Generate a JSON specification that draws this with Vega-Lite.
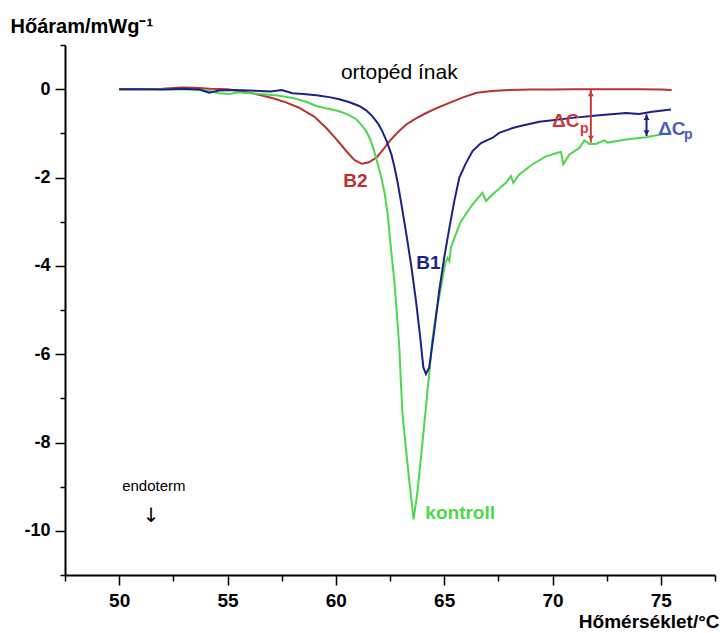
{
  "$schema": "https://vega.github.io/schema/vega-lite/v6.json",
  "width": 650,
  "height": 530,
  "autosize": {"type": "none"},
  "padding": {"left": 65, "top": 45, "right": 7, "bottom": 58},
  "background": "white",
  "config": {
    "view": {"stroke": null},
    "font": "Liberation Sans",
    "axis": {
      "grid": false,
      "domainColor": "black",
      "domainWidth": 2,
      "tickColor": "black",
      "tickWidth": 1.5,
      "labelColor": "black",
      "labelFont": "Liberation Sans",
      "labelFontSize": 18,
      "labelFontWeight": "bold",
      "titleFont": "Liberation Sans",
      "titleColor": "black",
      "titleFontSize": 19,
      "titleFontWeight": "bold"
    }
  },
  "datasets": {
    "curves": [
      {"s": "B2", "t": 50.0, "v": 0.0},
      {"s": "B2", "t": 51.0, "v": 0.0},
      {"s": "B2", "t": 52.0, "v": 0.01},
      {"s": "B2", "t": 52.9, "v": 0.04},
      {"s": "B2", "t": 53.5, "v": 0.03},
      {"s": "B2", "t": 54.2, "v": 0.01},
      {"s": "B2", "t": 55.0, "v": 0.0},
      {"s": "B2", "t": 55.7, "v": -0.05},
      {"s": "B2", "t": 56.5, "v": -0.13},
      {"s": "B2", "t": 57.06, "v": -0.2},
      {"s": "B2", "t": 57.7, "v": -0.3},
      {"s": "B2", "t": 58.3, "v": -0.42},
      {"s": "B2", "t": 59.0, "v": -0.62},
      {"s": "B2", "t": 59.56, "v": -0.88},
      {"s": "B2", "t": 60.0, "v": -1.12},
      {"s": "B2", "t": 60.48, "v": -1.4},
      {"s": "B2", "t": 60.85, "v": -1.6},
      {"s": "B2", "t": 61.2, "v": -1.69},
      {"s": "B2", "t": 61.5, "v": -1.66},
      {"s": "B2", "t": 61.87, "v": -1.55},
      {"s": "B2", "t": 62.2, "v": -1.36},
      {"s": "B2", "t": 62.47, "v": -1.18},
      {"s": "B2", "t": 62.85, "v": -0.98},
      {"s": "B2", "t": 63.25, "v": -0.8},
      {"s": "B2", "t": 63.7, "v": -0.66},
      {"s": "B2", "t": 64.17, "v": -0.54},
      {"s": "B2", "t": 64.7, "v": -0.42},
      {"s": "B2", "t": 65.24, "v": -0.31},
      {"s": "B2", "t": 65.9, "v": -0.18},
      {"s": "B2", "t": 66.5, "v": -0.08},
      {"s": "B2", "t": 67.2, "v": -0.04},
      {"s": "B2", "t": 68.0, "v": -0.02},
      {"s": "B2", "t": 69.0, "v": -0.01},
      {"s": "B2", "t": 70.0, "v": -0.01},
      {"s": "B2", "t": 71.0, "v": 0.0},
      {"s": "B2", "t": 72.0, "v": 0.0},
      {"s": "B2", "t": 73.0, "v": 0.0},
      {"s": "B2", "t": 74.0, "v": 0.0},
      {"s": "B2", "t": 75.0, "v": -0.01},
      {"s": "B2", "t": 75.5, "v": -0.02},

      {"s": "kontroll", "t": 50.0, "v": 0.0},
      {"s": "kontroll", "t": 51.0, "v": 0.0},
      {"s": "kontroll", "t": 52.0, "v": 0.0},
      {"s": "kontroll", "t": 53.0, "v": -0.01},
      {"s": "kontroll", "t": 54.0, "v": -0.02},
      {"s": "kontroll", "t": 54.6, "v": -0.09},
      {"s": "kontroll", "t": 55.1, "v": -0.11},
      {"s": "kontroll", "t": 55.5, "v": -0.07},
      {"s": "kontroll", "t": 56.2, "v": -0.1},
      {"s": "kontroll", "t": 56.8, "v": -0.12},
      {"s": "kontroll", "t": 57.4, "v": -0.15},
      {"s": "kontroll", "t": 58.0, "v": -0.2},
      {"s": "kontroll", "t": 58.6, "v": -0.28},
      {"s": "kontroll", "t": 59.1, "v": -0.38},
      {"s": "kontroll", "t": 59.6, "v": -0.44},
      {"s": "kontroll", "t": 60.16, "v": -0.5},
      {"s": "kontroll", "t": 60.6, "v": -0.58},
      {"s": "kontroll", "t": 60.94, "v": -0.68},
      {"s": "kontroll", "t": 61.2, "v": -0.82},
      {"s": "kontroll", "t": 61.4, "v": -0.95},
      {"s": "kontroll", "t": 61.6, "v": -1.15},
      {"s": "kontroll", "t": 61.77, "v": -1.4},
      {"s": "kontroll", "t": 61.95, "v": -1.72},
      {"s": "kontroll", "t": 62.1, "v": -2.0},
      {"s": "kontroll", "t": 62.25, "v": -2.35},
      {"s": "kontroll", "t": 62.39, "v": -2.83},
      {"s": "kontroll", "t": 62.54, "v": -3.59},
      {"s": "kontroll", "t": 62.7, "v": -4.34},
      {"s": "kontroll", "t": 62.82, "v": -5.1},
      {"s": "kontroll", "t": 62.93, "v": -5.85},
      {"s": "kontroll", "t": 63.0, "v": -6.61},
      {"s": "kontroll", "t": 63.08, "v": -7.36},
      {"s": "kontroll", "t": 63.23, "v": -8.11},
      {"s": "kontroll", "t": 63.39, "v": -8.87},
      {"s": "kontroll", "t": 63.59, "v": -9.74},
      {"s": "kontroll", "t": 63.77, "v": -9.1},
      {"s": "kontroll", "t": 63.93, "v": -8.34},
      {"s": "kontroll", "t": 64.08, "v": -7.59},
      {"s": "kontroll", "t": 64.23, "v": -6.83},
      {"s": "kontroll", "t": 64.31, "v": -6.45},
      {"s": "kontroll", "t": 64.45, "v": -5.7},
      {"s": "kontroll", "t": 64.62, "v": -5.1},
      {"s": "kontroll", "t": 64.85, "v": -4.5},
      {"s": "kontroll", "t": 65.05, "v": -3.93},
      {"s": "kontroll", "t": 65.16, "v": -3.82},
      {"s": "kontroll", "t": 65.24, "v": -3.89},
      {"s": "kontroll", "t": 65.31, "v": -3.59},
      {"s": "kontroll", "t": 65.62, "v": -3.18},
      {"s": "kontroll", "t": 65.78, "v": -2.99},
      {"s": "kontroll", "t": 66.31, "v": -2.61},
      {"s": "kontroll", "t": 66.77, "v": -2.35},
      {"s": "kontroll", "t": 66.93, "v": -2.53},
      {"s": "kontroll", "t": 67.24, "v": -2.38},
      {"s": "kontroll", "t": 67.85, "v": -2.12},
      {"s": "kontroll", "t": 68.08, "v": -1.97},
      {"s": "kontroll", "t": 68.19, "v": -2.12},
      {"s": "kontroll", "t": 68.47, "v": -1.93},
      {"s": "kontroll", "t": 69.08, "v": -1.7},
      {"s": "kontroll", "t": 69.7, "v": -1.52},
      {"s": "kontroll", "t": 70.24, "v": -1.44},
      {"s": "kontroll", "t": 70.39, "v": -1.42},
      {"s": "kontroll", "t": 70.5, "v": -1.7},
      {"s": "kontroll", "t": 70.78, "v": -1.48},
      {"s": "kontroll", "t": 71.24, "v": -1.33},
      {"s": "kontroll", "t": 71.47, "v": -1.16},
      {"s": "kontroll", "t": 71.7, "v": -1.24},
      {"s": "kontroll", "t": 72.0, "v": -1.24},
      {"s": "kontroll", "t": 72.39, "v": -1.16},
      {"s": "kontroll", "t": 72.55, "v": -1.21},
      {"s": "kontroll", "t": 73.39, "v": -1.14},
      {"s": "kontroll", "t": 74.32, "v": -1.09},
      {"s": "kontroll", "t": 75.16, "v": -1.01},

      {"s": "B1", "t": 50.0, "v": 0.0},
      {"s": "B1", "t": 51.0, "v": 0.0},
      {"s": "B1", "t": 52.0, "v": -0.01},
      {"s": "B1", "t": 53.0, "v": 0.01},
      {"s": "B1", "t": 53.7, "v": -0.01},
      {"s": "B1", "t": 54.15, "v": -0.08},
      {"s": "B1", "t": 54.6, "v": -0.03},
      {"s": "B1", "t": 55.3, "v": -0.02},
      {"s": "B1", "t": 56.0, "v": -0.03},
      {"s": "B1", "t": 57.0, "v": -0.05},
      {"s": "B1", "t": 57.5, "v": -0.02},
      {"s": "B1", "t": 58.0, "v": -0.09},
      {"s": "B1", "t": 58.5, "v": -0.11},
      {"s": "B1", "t": 59.1, "v": -0.14},
      {"s": "B1", "t": 59.7, "v": -0.18},
      {"s": "B1", "t": 60.16, "v": -0.23},
      {"s": "B1", "t": 60.6, "v": -0.29},
      {"s": "B1", "t": 61.08, "v": -0.38},
      {"s": "B1", "t": 61.4, "v": -0.48},
      {"s": "B1", "t": 61.68, "v": -0.61},
      {"s": "B1", "t": 61.95, "v": -0.78},
      {"s": "B1", "t": 62.14, "v": -0.95},
      {"s": "B1", "t": 62.35, "v": -1.18},
      {"s": "B1", "t": 62.56, "v": -1.47},
      {"s": "B1", "t": 62.7, "v": -1.75},
      {"s": "B1", "t": 62.84, "v": -2.08},
      {"s": "B1", "t": 63.0, "v": -2.53},
      {"s": "B1", "t": 63.23, "v": -3.21},
      {"s": "B1", "t": 63.47, "v": -3.96},
      {"s": "B1", "t": 63.7, "v": -4.8},
      {"s": "B1", "t": 63.88, "v": -5.55},
      {"s": "B1", "t": 64.04, "v": -6.3},
      {"s": "B1", "t": 64.16, "v": -6.45},
      {"s": "B1", "t": 64.31, "v": -6.3},
      {"s": "B1", "t": 64.54, "v": -5.48},
      {"s": "B1", "t": 64.77, "v": -4.57},
      {"s": "B1", "t": 65.0, "v": -3.82},
      {"s": "B1", "t": 65.24, "v": -3.14},
      {"s": "B1", "t": 65.47, "v": -2.53},
      {"s": "B1", "t": 65.7, "v": -2.0},
      {"s": "B1", "t": 66.0, "v": -1.68},
      {"s": "B1", "t": 66.31, "v": -1.4},
      {"s": "B1", "t": 66.7, "v": -1.22},
      {"s": "B1", "t": 67.24, "v": -1.1},
      {"s": "B1", "t": 67.54, "v": -0.99},
      {"s": "B1", "t": 68.16, "v": -0.88},
      {"s": "B1", "t": 68.47, "v": -0.84},
      {"s": "B1", "t": 69.39, "v": -0.74},
      {"s": "B1", "t": 69.7, "v": -0.72},
      {"s": "B1", "t": 70.92, "v": -0.65},
      {"s": "B1", "t": 72.16, "v": -0.59},
      {"s": "B1", "t": 73.39, "v": -0.54},
      {"s": "B1", "t": 74.0, "v": -0.56},
      {"s": "B1", "t": 74.6, "v": -0.51},
      {"s": "B1", "t": 75.47, "v": -0.46}
    ]
  },
  "layer": [
    {
      "data": {"name": "curves"},
      "mark": {"type": "line", "strokeWidth": 2},
      "encoding": {
        "x": {
          "field": "t", "type": "quantitative",
          "scale": {"domain": [47.5, 77.5], "nice": false, "zero": false},
          "axis": {
            "values": [50, 55, 60, 65, 70, 75],
            "tickSize": 10,
            "labelPadding": 6,
            "labelFontSize": 19,
            "title": "Hőmérséklet/°C",
            "titleX": 654,
            "titleY": 52,
            "titleAlign": "right",
            "titleBaseline": "alphabetic",
            "titleAnchor": null
          }
        },
        "y": {
          "field": "v", "type": "quantitative",
          "scale": {"domain": [-11, 1], "nice": false, "zero": false},
          "axis": {
            "values": [-10, -8, -6, -4, -2, 0],
            "tickSize": 10,
            "labelPadding": 5,
            "labelExpr": "'' + datum.value",
            "title": "Hőáram/mWg⁻¹",
            "titleFontSize": 20,
            "titleAngle": 0,
            "titleX": -55,
            "titleY": -13,
            "titleAlign": "left",
            "titleBaseline": "alphabetic",
            "titleAnchor": null
          }
        },
        "color": {
          "field": "s", "type": "nominal",
          "scale": {
            "domain": ["B2", "B1", "kontroll", "dB2", "dB1"],
            "range": ["#b83230", "#1c1f8c", "#4cd84c", "#c83a3a", "#4a5cc0"]
          },
          "legend": null
        },
        "order": {"field": "t", "type": "quantitative"}
      }
    },
    {
      "data": {"values": [
        {"s": "dB2", "t": 71.77, "a": 0, "b": -1.21},
        {"s": "B1", "t": 74.34, "a": -0.57, "b": -1.06}
      ]},
      "mark": {"type": "rule", "strokeWidth": 2},
      "encoding": {
        "x": {
          "field": "t", "type": "quantitative",
          "axis": {
            "values": [47.5, 52.5, 57.5, 62.5, 67.5, 72.5, 77.5],
            "orient": "bottom",
            "tickSize": 6,
            "labels": false,
            "domain": false,
            "title": null
          }
        },
        "y": {
          "field": "a", "type": "quantitative",
          "axis": {
            "values": [-11, -9, -7, -5, -3, -1, 1],
            "orient": "left",
            "tickSize": 5,
            "labels": false,
            "domain": false,
            "title": null
          }
        },
        "y2": {"field": "b"},
        "color": {"field": "s", "type": "nominal", "legend": null}
      }
    },
    {
      "data": {"values": [
        {"s": "dB2", "t": 71.77, "p": -0.1, "dir": "up"},
        {"s": "dB2", "t": 71.77, "p": -1.11, "dir": "down"},
        {"s": "B1", "t": 74.34, "p": -0.64, "dir": "up"},
        {"s": "B1", "t": 74.34, "p": -0.99, "dir": "down"}
      ]},
      "mark": {"type": "point", "filled": true, "size": 35, "opacity": 1},
      "encoding": {
        "x": {"field": "t", "type": "quantitative", "axis": null},
        "y": {"field": "p", "type": "quantitative", "axis": null},
        "shape": {
          "field": "dir", "type": "nominal",
          "scale": {"domain": ["up", "down"], "range": ["triangle-up", "triangle-down"]},
          "legend": null
        },
        "color": {"field": "s", "type": "nominal", "legend": null}
      }
    },
    {
      "data": {"values": [
        {"s": "B2", "label": "B2", "t": 60.9, "p": -2.08},
        {"s": "B1", "label": "B1", "t": 64.27, "p": -3.94},
        {"s": "kontroll", "label": "kontroll", "t": 65.74, "p": -9.59},
        {"s": "dB2", "label": "ΔC", "t": 70.61, "p": -0.72},
        {"s": "dB1", "label": "ΔC", "t": 75.51, "p": -0.9}
      ]},
      "mark": {"type": "text", "fontSize": 19, "fontWeight": "bold", "align": "center", "baseline": "middle", "font": "Liberation Sans"},
      "encoding": {
        "x": {"field": "t", "type": "quantitative", "axis": null},
        "y": {"field": "p", "type": "quantitative", "axis": null},
        "text": {"field": "label"},
        "color": {"field": "s", "type": "nominal", "legend": null}
      }
    },
    {
      "data": {"values": [
        {"s": "dB2", "label": "p", "t": 71.47, "p": -0.9},
        {"s": "dB1", "label": "p", "t": 76.27, "p": -1.04}
      ]},
      "mark": {"type": "text", "fontSize": 14, "fontWeight": "bold", "align": "center", "baseline": "middle", "font": "Liberation Sans"},
      "encoding": {
        "x": {"field": "t", "type": "quantitative", "axis": null},
        "y": {"field": "p", "type": "quantitative", "axis": null},
        "text": {"field": "label"},
        "color": {"field": "s", "type": "nominal", "legend": null}
      }
    },
    {
      "data": {"values": [{"label": "ortopéd ínak", "t": 62.93, "p": 0.36}]},
      "mark": {"type": "text", "fontSize": 21, "align": "center", "baseline": "middle", "color": "black", "font": "Liberation Sans"},
      "encoding": {
        "x": {"field": "t", "type": "quantitative", "axis": null},
        "y": {"field": "p", "type": "quantitative", "axis": null},
        "text": {"field": "label"}
      }
    },
    {
      "data": {"values": [{"label": "endoterm", "t": 51.6, "p": -8.98}]},
      "mark": {"type": "text", "fontSize": 15, "align": "center", "baseline": "middle", "color": "black", "font": "Liberation Sans"},
      "encoding": {
        "x": {"field": "t", "type": "quantitative", "axis": null},
        "y": {"field": "p", "type": "quantitative", "axis": null},
        "text": {"field": "label"}
      }
    },
    {
      "data": {"values": [{"label": "↓", "t": 51.48, "p": -9.66}]},
      "mark": {"type": "text", "fontSize": 20, "align": "center", "baseline": "middle", "color": "black", "font": "DejaVu Sans"},
      "encoding": {
        "x": {"field": "t", "type": "quantitative", "axis": null},
        "y": {"field": "p", "type": "quantitative", "axis": null},
        "text": {"field": "label"}
      }
    }
  ],
  "resolve": {"axis": {"x": "independent", "y": "independent"}}
}
